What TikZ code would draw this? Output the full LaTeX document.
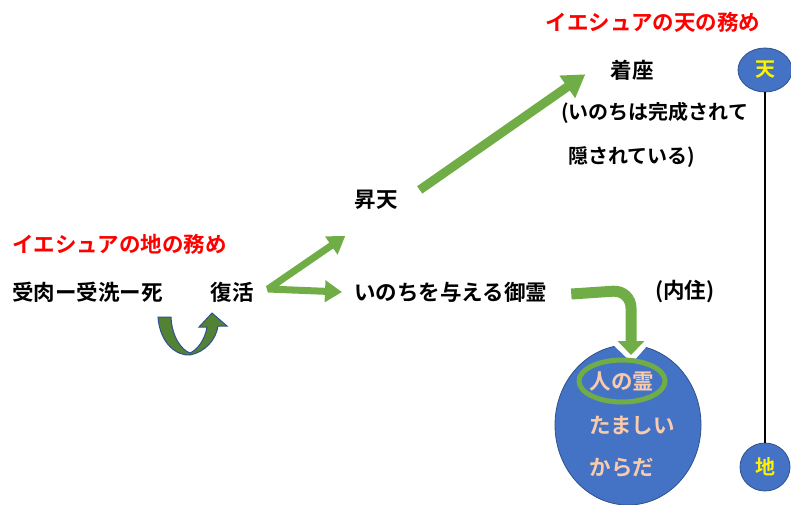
\documentclass[tikz,border=0pt]{standalone}
\usepackage{fontspec}
\setmainfont{Noto Sans CJK JP}[BoldFont={Noto Sans CJK JP Bold}]
\usetikzlibrary{arrows.meta}
\definecolor{arrowgreen}{HTML}{70AD47}
\definecolor{ublue}{HTML}{4472C4}
\definecolor{uborder}{HTML}{2F528F}
\definecolor{peach}{HTML}{F8CBAD}
\definecolor{darkgreen}{HTML}{548235}
\tikzset{
  txt/.style={font=\fontsize{21.5}{24}\selectfont\bfseries,inner sep=0pt},
  smalltxt/.style={txt,font=\fontsize{20}{22}\selectfont\bfseries},
  redtitle/.style={txt,text=red},
  soultxt/.style={txt,text=peach},
  greenarrow/.style={draw=arrowgreen,line width=7pt,-{Triangle[length=17pt,width=21pt]}},
  pole/.style={ellipse,fill=ublue,draw=uborder,line width=0.8pt,text=yellow,font=\fontsize{20}{22}\selectfont\bfseries,inner sep=0pt}
}
\usetikzlibrary{shapes.geometric}
\begin{document}
\begin{tikzpicture}[x=1pt,y=-1pt]
\useasboundingbox (0,0) rectangle (791,504);
\node[redtitle] (heavenwork) at (653,22) {イエシュアの天の務め};
\node[txt] (seated) at (632,70) {着座};
\node[smalltxt,anchor=west] (hidden1) at (561,113) {(いのちは完成されて};
\node[smalltxt,anchor=west] (hidden2) at (568,157) {隠されている)};
\node[txt] (ascend) at (376,200) {昇天};
\node[redtitle,anchor=west] (earthwork) at (12,244) {イエシュアの地の務め};
\node[txt,anchor=west] (life) at (12,292) {受肉ー受洗ー死};
\node[txt] (rise) at (232,292) {復活};
\node[txt,anchor=west] (spirit) at (354,292) {いのちを与える御霊};
\node[txt,anchor=west] (indwell) at (655,292) {(内住)};
\fill[ublue,draw=uborder,line width=0.8pt] (628,425) ellipse [x radius=73,y radius=80];
\fill[white] (606,338) -- (654,338) -- (632,363) -- cycle;
\node[soultxt] (human) at (622,381) {人の霊};
\node[soultxt] (soul) at (632,425) {たましい};
\node[soultxt] (body) at (622,468) {からだ};
\draw[arrowgreen,line width=5pt] (human) ellipse [x radius=43,y radius=21];
\coordinate (ringtop) at (631,355);
\node[pole,minimum width=54pt,minimum height=44pt] (heaven) at (765,70) {天};
\node[pole,minimum width=50pt,minimum height=48pt] (earth) at (765,467) {地};
\draw[line width=1.5pt] (heaven) -- (earth);
\coordinate (fork) at (268,289);
\draw[greenarrow,line join=bevel,{Triangle[length=17pt,width=21pt]}-{Triangle[length=17pt,width=21pt]}] ([xshift=-9pt,yshift=-26pt]ascend.south west) -- (fork) -- ([xshift=-12pt]spirit.west);
\draw[greenarrow,line width=9pt,-{Triangle[length=22pt,width=26pt]}] ([xshift=22pt,yshift=20pt]ascend.south east) -- ([xshift=-25pt,yshift=6pt]seated.south west);
\draw[greenarrow,line width=11pt,rounded corners=18pt,-{Triangle[length=14pt,width=26pt]}] ([xshift=24pt,yshift=-2pt]spirit.east) -- (631,290) -- (ringtop);
\filldraw[draw=uborder,fill=darkgreen,line width=1pt] (158,317) .. controls (160,345) and (178,356) .. (190,355) .. controls (205,352) and (216,340) .. (218,326) -- (227,326) -- (212,313) -- (199,327) -- (207,327) .. controls (205,340) and (197,350) .. (190,353) .. controls (182,350) and (172,338) .. (171,317) -- cycle;
\end{tikzpicture}
\end{document}
